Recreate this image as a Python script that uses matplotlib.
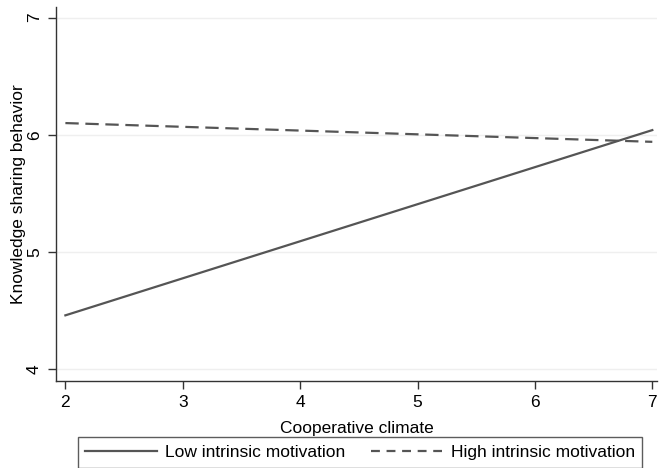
import numpy as np
import matplotlib.pyplot as plt

plt.rcParams['font.family'] = ['Liberation Sans', 'DejaVu Sans']

# predicted values at the ends of the cooperative climate range
climate = [2, 7]
low_motivation = [4.46, 6.04]
high_motivation = [6.10, 5.94]
x_ticks = [2, 3, 4, 5, 6, 7]
y_ticks = [4, 5, 6, 7]

fig = plt.figure(figsize=(6.62, 4.68), dpi=100)
ax = fig.add_axes([56 / 662, 1 - 381 / 468, 601 / 662, 374 / 468])

line_col = '#555555'
ax.plot(climate, low_motivation, color=line_col, lw=1.6, ls='-',
        label='Low intrinsic motivation')
ax.plot(climate, high_motivation, color=line_col, lw=1.6, ls=(0, (6, 3)),
        label='High intrinsic motivation')

ax.set_xlim(1.92, 7.04)
ax.set_ylim(3.9, 7.09)
ax.set_xticks(x_ticks)
ax.set_yticks(y_ticks)
ax.set_yticklabels([str(v) for v in y_ticks], rotation=90, va='center')

# faint horizontal grid
for v in y_ticks:
    ax.axhline(v, color='#efefef', lw=1, zorder=0)

for s in ['top', 'right']:
    ax.spines[s].set_visible(False)
for s in ['left', 'bottom']:
    ax.spines[s].set_color('#333333')
    ax.spines[s].set_linewidth(1)
ax.tick_params(direction='out', length=6, width=1, color='#333333',
               labelsize=12.5, pad=4)

ax.set_xlabel('Cooperative climate', fontsize=12.5, labelpad=8)
ax.set_ylabel('Knowledge sharing behavior', fontsize=12.5, labelpad=1)

leg = fig.legend(loc='upper center', bbox_to_anchor=(360 / 662, 1 - 437 / 468),
                 ncol=2, fontsize=12.5, frameon=True, fancybox=False,
                 handlelength=4.1, handletextpad=0.5, columnspacing=1.45,
                 borderpad=0.45, borderaxespad=0, edgecolor='#333333')
leg.get_frame().set_linewidth(1)
for h in leg.get_lines():
    h.set_linestyle('-' if h.get_label().startswith('Low') else (0, (4, 3)))

fig.savefig('out.png', dpi=100)
